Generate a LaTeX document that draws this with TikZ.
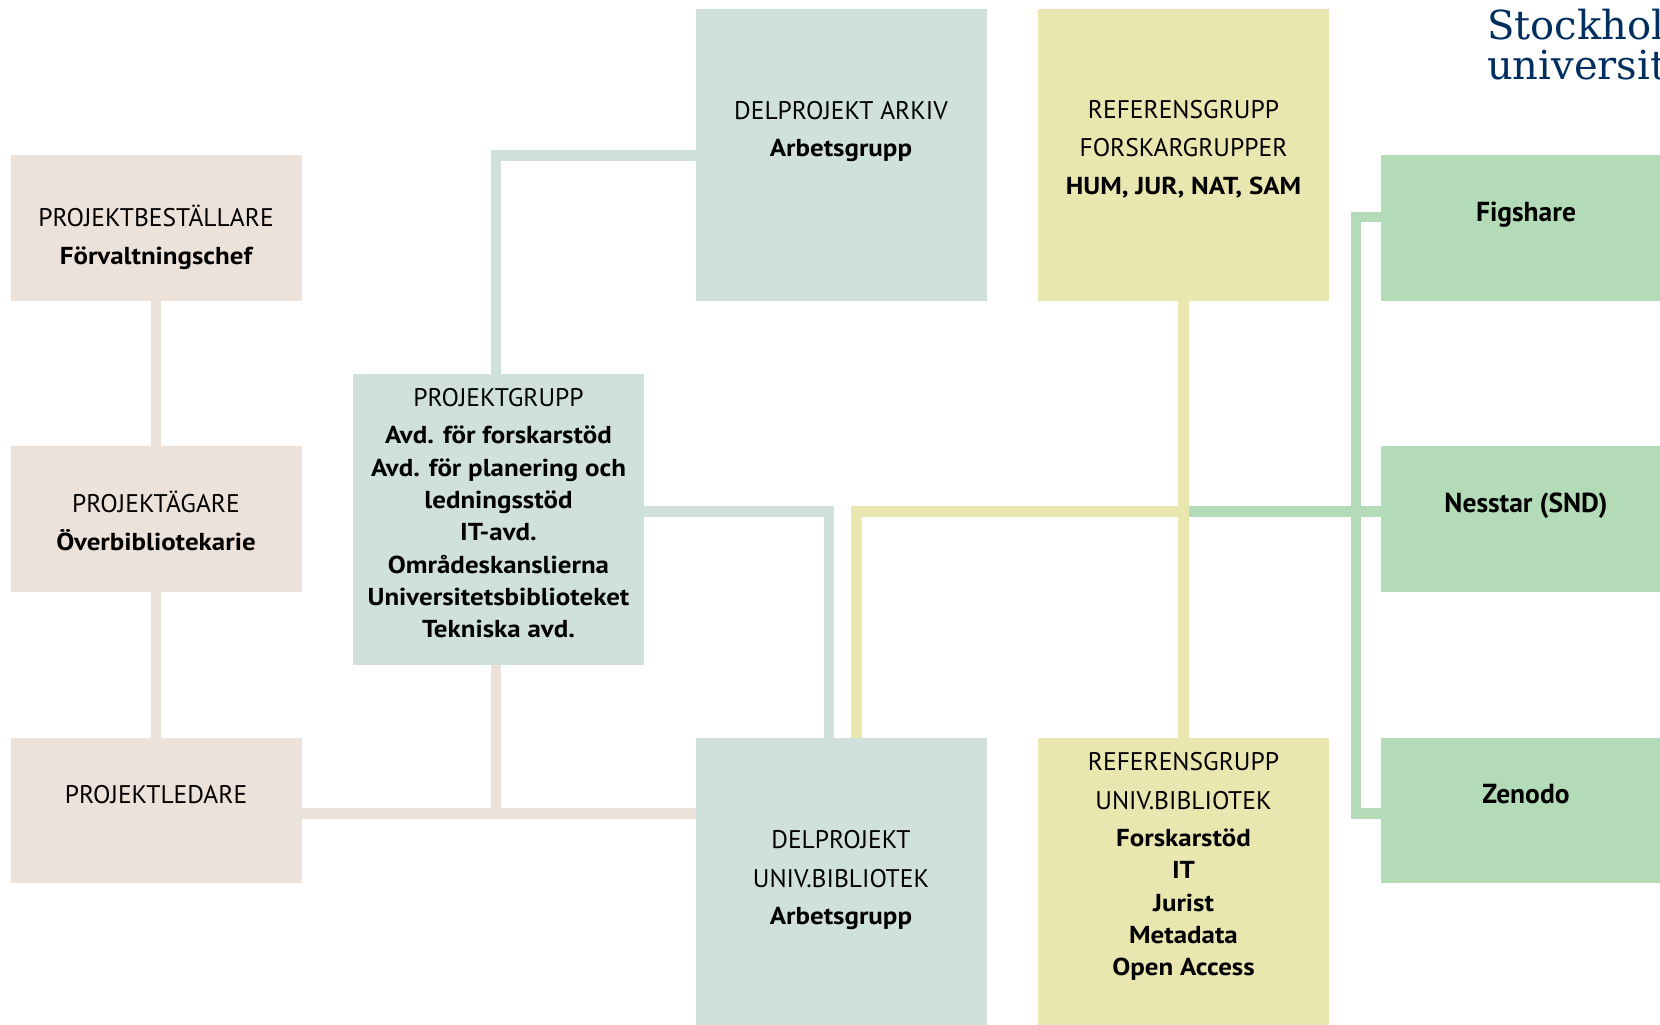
\documentclass[tikz,border=0pt]{standalone}
\usepackage{fontspec}
\setmainfont{PT Sans}
\newfontfamily\widefont{PT Sans}[FakeStretch=1.1]
\newfontfamily\logofont{DejaVu Serif}
\definecolor{suBeige}{HTML}{EDE2DA}
\definecolor{suTeal}{HTML}{CFE1DA}
\definecolor{suYellow}{HTML}{EAE6B0}
\definecolor{suGreen}{HTML}{B3DBB8}
\definecolor{suBlue}{HTML}{002F5F}
\newcommand{\lighthead}[1]{{\normalfont\fontsize{25.5}{32.3}\selectfont #1}}

\begin{document}
\begin{tikzpicture}[x=1pt,y=-1pt,
	box/.style={minimum width=291pt,outer sep=0pt,inner sep=0pt},
	smallbox/.style={box,minimum height=145.6pt},
	bigbox/.style={box,minimum height=291.2pt},
	link/.style={line width=10.8pt},
	txt/.style={anchor=base,align=center,inner sep=0pt,font=\widefont\fontsize{24.5}{32.3}\selectfont\bfseries},
	repo/.style={txt,font=\normalfont\fontsize{27.5}{32.3}\selectfont\bfseries}]
	\useasboundingbox (0,0) rectangle (1660,1025);
	% Boxes
	\node[smallbox,fill=suBeige] (best) at (156,227.9) {};
	\node[smallbox,fill=suBeige] (agare) at (156,519.1) {};
	\node[smallbox,fill=suBeige] (ledare) at (156,810.3) {};
	\node[bigbox,fill=suTeal] (pgrupp) at (498.5,519.3) {};
	\node[bigbox,fill=suTeal] (arkiv) at (841,155.1) {};
	\node[bigbox,fill=suTeal] (univ) at (841,883.1) {};
	\node[bigbox,fill=suYellow] (refforsk) at (1183.5,155.1) {};
	\node[bigbox,fill=suYellow] (refuniv) at (1183.5,883.1) {};
	\node[smallbox,fill=suGreen] (figshare) at (1526,227.9) {};
	\node[smallbox,fill=suGreen] (nesstar) at (1526,519.1) {};
	\node[smallbox,fill=suGreen] (zenodo) at (1526,810.3) {};
	%Lines
	\coordinate (pgTop) at (496,155.3);
	\coordinate (pgBot) at (496,813.7);
	\coordinate (tealBend) at (829,511.5);
	\coordinate (yelBend) at (856.5,511.5);
	\coordinate (repTop) at (1356,217);
	\coordinate (repBot) at (1356,813.7);
	\draw[link,suBeige] (best) -- (agare);
	\draw[link,suBeige] (agare) -- (ledare);
	\draw[link,suBeige] (ledare.east |- pgBot) -- (univ.west |- pgBot);
	\draw[link,suBeige] (pgrupp.south -| pgBot) -- (pgBot);
	\draw[link,suTeal] (pgrupp.north -| pgTop) -- (pgTop) -- (arkiv.west |- pgTop);
	\draw[link,suTeal] (pgrupp.east |- tealBend) -- (tealBend) -- (univ.north -| tealBend);
	\draw[link,suGreen] (refforsk.south |- tealBend) -- (nesstar.west |- tealBend);
	\draw[link,suGreen] (figshare.west |- repTop) -- (repTop) -- (repBot) -- (zenodo.west |- repBot);
	\draw[link,suYellow] (refforsk) -- (refuniv);
	\draw[link,suYellow] (refforsk.south |- yelBend) -- (yelBend) -- (univ.north -| yelBend);
	%Labels (placed at the baseline of the last line)
	\node[txt] (bestText) at (156,264) {\lighthead{PROJEKTBESTÄLLARE}\\[5.2pt] Förvaltningschef};
	\node[txt] (agareText) at (156,550) {\lighthead{PROJEKTÄGARE}\\[5.2pt] Överbibliotekarie};
	\node[txt] (ledareText) at (156,803.3) {\lighthead{PROJEKTLEDARE}};
	\node[txt] (pgruppText) at (498.5,637.7) {\lighthead{PROJEKTGRUPP}\\[5.2pt] Avd. för forskarstöd\\ Avd. för planering och\\ ledningsstöd\\ IT-avd.\\ Områdeskanslierna\\ Universitetsbiblioteket\\ Tekniska avd.};
	\node[txt] (arkivText) at (841,156.7) {\lighthead{DELPROJEKT ARKIV}\\[5.2pt] Arbetsgrupp};
	\node[txt] (univText) at (841,924.5) {\lighthead{DELPROJEKT}\\[6.2pt] \lighthead{UNIV.BIBLIOTEK}\\[5.2pt] Arbetsgrupp};
	\node[txt] (refforskText) at (1183.5,194.3) {\lighthead{REFERENSGRUPP}\\[6.2pt] \lighthead{FORSKARGRUPPER}\\[5.2pt] HUM, JUR, NAT, SAM};
	\node[txt] (refunivText) at (1183.5,975.7) {\lighthead{REFERENSGRUPP}\\[6.2pt] \lighthead{UNIV.BIBLIOTEK}\\[5.2pt] Forskarstöd\\ IT\\ Jurist\\ Metadata\\ Open Access};
	\node[repo] (figshareText) at (1526,221.4) {Figshare};
	\node[repo] (nesstarText) at (1526,512.3) {Nesstar (SND)};
	\node[repo] (zenodoText) at (1526,803) {Zenodo};
	%Logo
	\node[anchor=base west,align=left,inner sep=0pt,text=suBlue,font=\logofont\fontsize{40}{39.7}\selectfont] (logo) at (1487,79) {Stockholm\\universitet};
\end{tikzpicture}
\end{document}
